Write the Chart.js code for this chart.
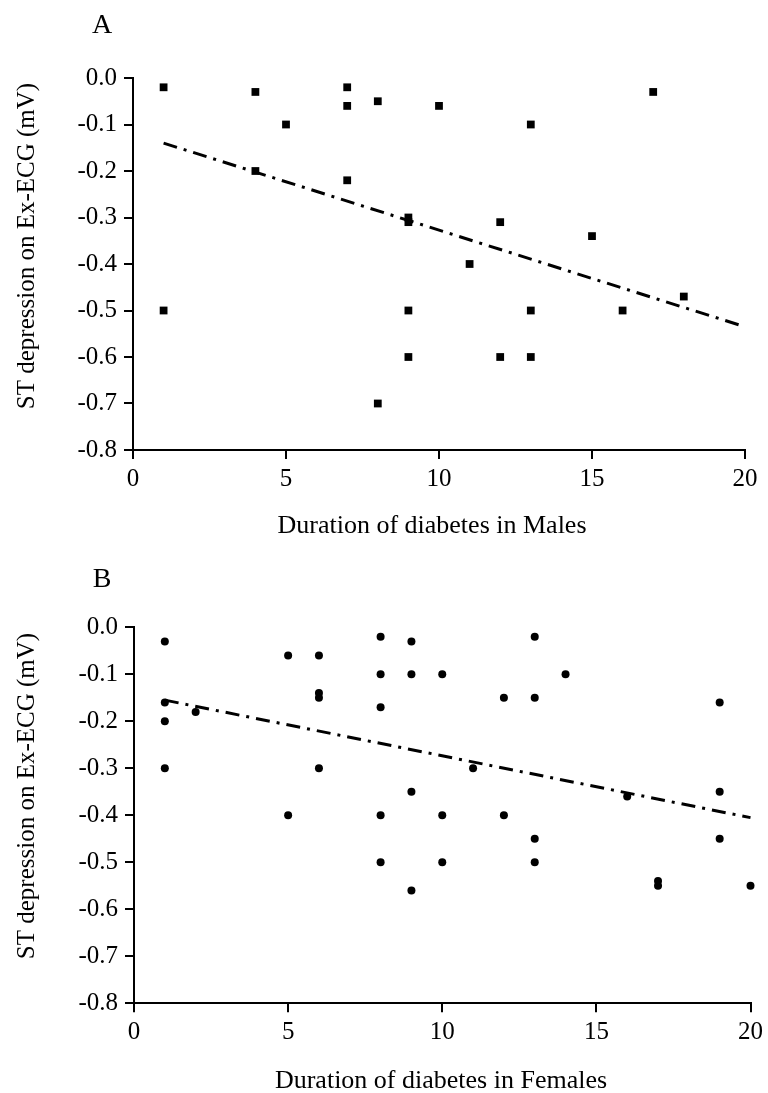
<!DOCTYPE html>
<html><head><meta charset="utf-8">
<script src="https://cdn.jsdelivr.net/npm/chart.js@4"></script>
<style>
html,body{margin:0;padding:0;background:#fff;}
body{width:768px;height:1093px;position:relative;overflow:hidden;}
.panel{position:absolute;left:0;width:768px;}
</style></head><body>
<div class="panel" style="top:0;height:546px"><canvas id="ca"></canvas></div>
<div class="panel" style="top:546px;height:547px"><canvas id="cb"></canvas></div>
<script>
// ---- data ----
const xTickValues = [0, 5, 10, 15, 20];
const yTickValues = [0, -0.1, -0.2, -0.3, -0.4, -0.5, -0.6, -0.7, -0.8];

const maleDuration = [1,1,4,4,5,7,7,7,8,8,9,9,9,9,10,11,12,12,13,13,13,15,16,17,18];
const maleST = [-0.02,-0.5,-0.03,-0.2,-0.1,-0.02,-0.06,-0.22,-0.05,-0.7,-0.30,-0.31,-0.5,-0.6,-0.06,-0.4,-0.31,-0.6,-0.1,-0.5,-0.6,-0.34,-0.5,-0.03,-0.47];
const maleFitX = [1, 20];
const maleFitY = [-0.14, -0.535];

const femaleDuration = [1,1,1,1,2,5,5,6,6,6,6,8,8,8,8,8,9,9,9,9,10,10,10,11,12,12,13,13,13,13,14,16,17,17,19,19,19,20];
const femaleST = [-0.03,-0.16,-0.2,-0.3,-0.18,-0.06,-0.4,-0.06,-0.14,-0.15,-0.3,-0.02,-0.1,-0.17,-0.4,-0.5,-0.03,-0.1,-0.35,-0.56,-0.1,-0.4,-0.5,-0.3,-0.15,-0.4,-0.02,-0.15,-0.45,-0.5,-0.1,-0.36,-0.54,-0.55,-0.16,-0.35,-0.45,-0.55];
const femaleFitX = [1, 20];
const femaleFitY = [-0.155, -0.405];

const yTitle = 'ST depression on Ex-ECG (mV)';
const xTitleA = 'Duration of diabetes in Males';
const xTitleB = 'Duration of diabetes in Females';

// ---- helpers ----
const SERIF = '"Liberation Serif", "Times New Roman", serif';
const toPts = (xs, ys) => xs.map((x, i) => ({x: x, y: ys[i]}));

const textPlugin = {
  id: 'texts',
  afterDraw(chart, args, opts) {
    const ctx = chart.ctx;
    ctx.save();
    ctx.fillStyle = '#000';
    for (const t of opts.items || []) {
      ctx.save();
      ctx.font = t.font;
      ctx.textAlign = t.align || 'center';
      ctx.textBaseline = t.baseline || 'alphabetic';
      ctx.translate(t.x, t.y);
      if (t.rot) ctx.rotate(t.rot);
      ctx.fillText(t.text, 0, 0);
      ctx.restore();
    }
    ctx.restore();
  }
};

function makeChart(id, P, pts, fit, pointStyle, radius, texts) {
  const tickFont = {family: SERIF, size: 25};
  const axisCommon = {
    grid: {display: true, drawOnChartArea: false, drawTicks: true, tickLength: 9, color: '#000', lineWidth: 2},
    border: {display: true, color: '#000', width: 2},
  };
  return new Chart(document.getElementById(id), {
    type: 'scatter',
    data: {
      datasets: [
        {data: fit, showLine: true, pointRadius: 0, borderColor: '#000', borderWidth: 3,
         borderDash: [14, 7, 3, 7], fill: false, clip: false},
        {data: pts, pointStyle: pointStyle, pointRadius: radius, pointHoverRadius: radius,
         backgroundColor: '#000', borderColor: '#000', borderWidth: 0, clip: false}
      ]
    },
    options: {
      responsive: true, maintainAspectRatio: false, animation: false,
      layout: {padding: {left: 0, top: P.top, right: 768 - P.right, bottom: 0}},
      plugins: {legend: {display: false}, tooltip: {enabled: false}, texts: {items: texts}},
      scales: {
        x: Object.assign({
          type: 'linear', min: 0, max: 20,
          afterFit: s => { s.height = P.h - P.bottom; },
          afterBuildTicks: s => { s.ticks = xTickValues.map(v => ({value: v})); },
          ticks: {font: tickFont, color: '#000', padding: 5, maxRotation: 0, autoSkip: false},
        }, axisCommon),
        y: Object.assign({
          type: 'linear', min: -0.8, max: 0,
          afterFit: s => { s.width = P.left; },
          afterBuildTicks: s => { s.ticks = yTickValues.map(v => ({value: v})); },
          ticks: {font: tickFont, color: '#000', padding: 7, autoSkip: false,
                  callback: v => Number(v).toFixed(1)},
        }, axisCommon)
      }
    },
    plugins: [textPlugin]
  });
}

makeChart('ca', {left: 133, right: 745, top: 78, bottom: 450, h: 546},
  toPts(maleDuration, maleST), toPts(maleFitX, maleFitY), 'rect', 5.5, [
    {text: 'A', x: 102, y: 33, font: '28px ' + SERIF},
    {text: yTitle, x: 27, y: 246, rot: -Math.PI / 2, baseline: 'middle', font: '25px ' + SERIF},
    {text: xTitleA, x: 432, y: 533, font: '26px ' + SERIF}
  ]);

makeChart('cb', {left: 134, right: 752.7, top: 81.3, bottom: 457.3, h: 547},
  toPts(femaleDuration, femaleST), toPts(femaleFitX, femaleFitY), 'circle', 4, [
    {text: 'B', x: 102, y: 41, font: '28px ' + SERIF},
    {text: yTitle, x: 27, y: 250, rot: -Math.PI / 2, baseline: 'middle', font: '25px ' + SERIF},
    {text: xTitleB, x: 441, y: 542, font: '26px ' + SERIF}
  ]);
</script>
</body></html>
